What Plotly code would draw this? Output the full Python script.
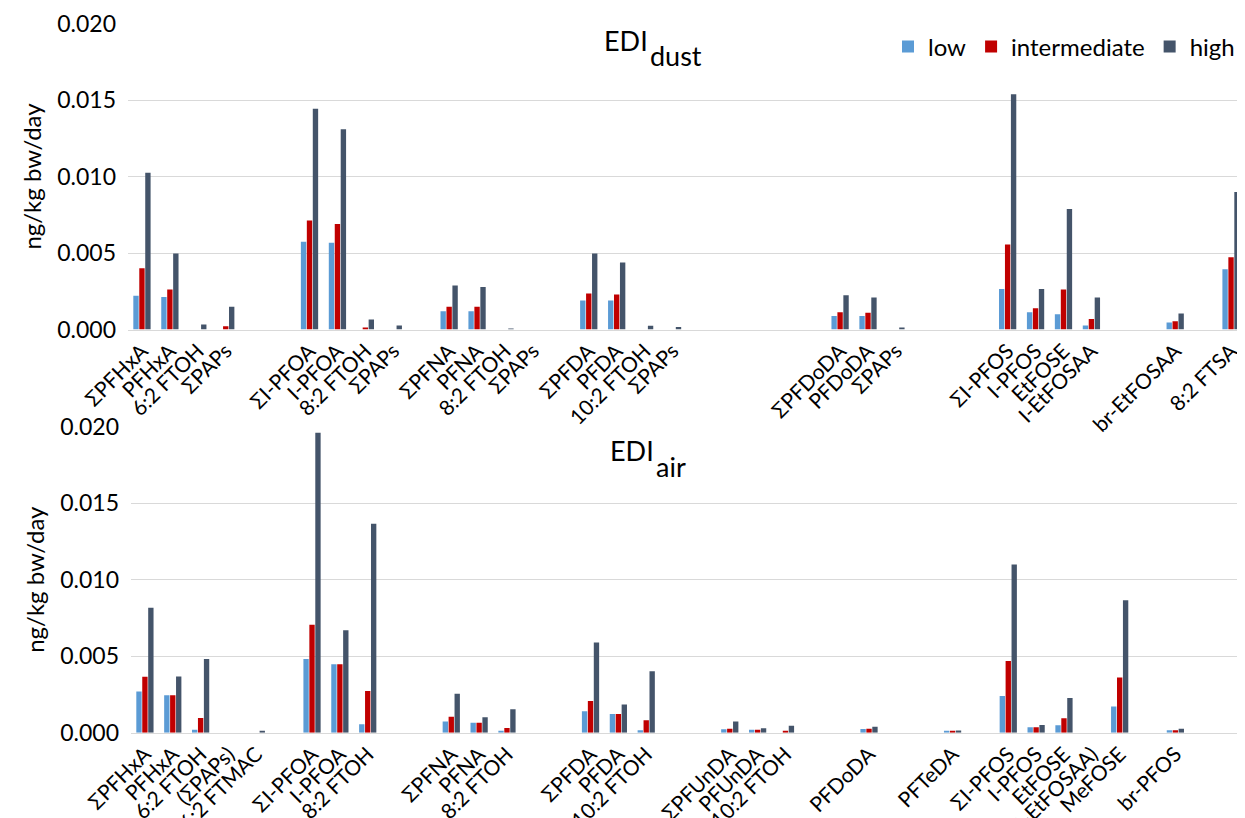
import plotly.graph_objects as go

# ---------------- data: EDI dust (top) ----------------
dust_labels = ["ΣPFHxA", "PFHxA", "6:2 FTOH", "ΣPAPs", "", "",
               "ΣI-PFOA", "I-PFOA", "8:2 FTOH", "ΣPAPs", "",
               "ΣPFNA", "PFNA", "8:2 FTOH", "ΣPAPs", "",
               "ΣPFDA", "PFDA", "10:2 FTOH", "ΣPAPs", "", "", "", "", "",
               "ΣPFDoDA", "PFDoDA", "ΣPAPs", "", "", "",
               "ΣI-PFOS", "I-PFOS", "EtFOSE", "I-EtFOSAA", "", "",
               "br-EtFOSAA", "", "8:2 FTSA"]
dust_low = [0.0022, 0.00213, 0, 0, None, None,
            0.00573, 0.00567, 0, 0, None,
            0.0012, 0.0012, 0, 0, None,
            0.0019, 0.0019, 0, 0, None, None, None, None, None,
            0.00089, 0.00089, 0, None, None, None,
            0.00264, 0.00113, 0.0010, 0.00026, None, None,
            0.00046, None, 0.00393]
dust_mid = [0.0040, 0.00262, 0, 0.00022, None, None,
            0.00713, 0.00689, 0.0001, 0, None,
            0.00148, 0.00148, 0, 0, None,
            0.00236, 0.00229, 0, 0, None, None, None, None, None,
            0.00113, 0.00109, 0, None, None, None,
            0.00556, 0.00139, 0.00262, 0.00069, None, None,
            0.00054, None, 0.00473]
dust_high = [0.01025, 0.00497, 0.00033, 0.00148, None, None,
             0.01442, 0.01309, 0.00065, 0.00026, None,
             0.00288, 0.00277, 0.00005, 0, None,
             0.00497, 0.00438, 0.00024, 0.00017, None, None, None, None, None,
             0.00224, 0.00209, 0.0001, None, None, None,
             0.01538, 0.00264, 0.00787, 0.00209, None, None,
             0.00105, None, 0.00899]

# ---------------- data: EDI air (bottom) ----------------
air_labels = ["ΣPFHxA", "PFHxA", "6:2 FTOH", "(ΣPAPs)", "6:2 FTMAC", "",
              "ΣI-PFOA", "I-PFOA", "8:2 FTOH", "", "",
              "ΣPFNA", "PFNA", "8:2 FTOH", "", "",
              "ΣPFDA", "PFDA", "10:2 FTOH", "", "",
              "ΣPFUnDA", "PFUnDA", "10:2 FTOH", "", "",
              "PFDoDA", "", "", "PFTeDA", "",
              "ΣI-PFOS", "I-PFOS", "EtFOSE", "(I-EtFOSAA)", "MeFOSE", "",
              "br-PFOS", "", ""]
air_low = [0.0027, 0.00244, 0.0002, 0, 0, None,
           0.00482, 0.00447, 0.00055, None, None,
           0.00074, 0.00065, 0.00009, None, None,
           0.0014, 0.00122, 0.00016, None, None,
           0.00022, 0.0002, 0, None, None,
           0.00024, None, None, 0.0001, None,
           0.0024, 0.00035, 0.00048, 0, 0.00172, None,
           0.00016, None, None]
air_mid = [0.00366, 0.00244, 0.00096, 0, 0, None,
           0.00706, 0.00447, 0.00273, None, None,
           0.00105, 0.00065, 0.00031, None, None,
           0.00207, 0.00122, 0.00081, None, None,
           0.00026, 0.0002, 0.00007, None, None,
           0.00026, None, None, 0.0001, None,
           0.00469, 0.00035, 0.00094, 0, 0.0036, None,
           0.00016, None, None]
air_high = [0.00817, 0.00368, 0.00482, 0, 0.00007, None,
            0.0196, 0.00669, 0.01366, None, None,
            0.00255, 0.00101, 0.00153, None, None,
            0.0059, 0.00185, 0.00401, None, None,
            0.00074, 0.00029, 0.00046, None, None,
            0.00039, None, None, 0.00014, None,
            0.011, 0.0005, 0.00227, 0, 0.00865, None,
            0.00026, None, None]

series_names = ["low", "intermediate", "high"]
colors = ["#5B9BD5", "#C00000", "#44546A"]

FONT = "Lato, 'Open Sans', sans-serif"
# page body has an 8px margin: figure is drawn from (8, 8) of the 1245x818 window
OFF = 8
W, H = 1245 - OFF, 818 - OFF

def fx(px):
    return (px - OFF) / W

def fy(py):
    return (H - (py - OFF)) / H

fig = go.Figure()

def add_panel(labels, vals, xa, ya, show):
    xs = list(range(len(labels)))
    for name, v, c in zip(series_names, vals, colors):
        fig.add_trace(go.Bar(x=xs, y=v, name=name, marker=dict(color=c, line=dict(width=0)),
                             xaxis=xa, yaxis=ya, showlegend=show))

add_panel(dust_labels, [dust_low, dust_mid, dust_high], "x", "y", True)
add_panel(air_labels, [air_low, air_mid, air_high], "x2", "y2", False)

def xaxis_cfg(labels, left_px, anchor):
    tv = [i for i, l in enumerate(labels) if l]
    tt = [labels[i] for i in tv]
    return dict(domain=[fx(left_px), 1.0], range=[-0.5, len(labels) - 0.5],
                tickmode="array", tickvals=tv, ticktext=tt, tickangle=-45,
                tickfont=dict(size=21, color="#000000", family=FONT),
                showgrid=False, zeroline=False, showline=True, linecolor="#D9D9D9",
                linewidth=1, ticks="", anchor=anchor, automargin=False)

def yaxis_cfg(top_px, bottom_px, anchor):
    return dict(domain=[fy(bottom_px), fy(top_px)], range=[0, 0.02],
                tickvals=[0, 0.005, 0.01, 0.015, 0.02],
                tickformat=".3f", tickfont=dict(size=23, color="#000000", family=FONT),
                showgrid=True, gridcolor="#D9D9D9", gridwidth=1, zeroline=False,
                showline=False, ticks="", ticklabelstandoff=11, anchor=anchor,
                automargin=False,
                title=dict(text="ng/kg bw/day", font=dict(size=24, color="#000000", family=FONT),
                           standoff=8))

def title_parts(main, sub, join_x, base_main, base_sub, size=27):
    # middle of a text box sits about 0.35em above its baseline
    return [
        dict(text=main, x=fx(join_x + 1), y=fy(base_main - 0.35 * size), xref="paper", yref="paper",
             xanchor="right", yanchor="middle", showarrow=False, borderpad=0,
             font=dict(size=size, family=FONT, color="#000000")),
        dict(text=sub, x=fx(join_x + 1), y=fy(base_sub - 0.35 * size), xref="paper", yref="paper",
             xanchor="left", yanchor="middle", showarrow=False, borderpad=0,
             font=dict(size=size, family=FONT, color="#000000")),
    ]

annots = title_parts("EDI", "dust", 648, 50, 65) + title_parts("EDI", "air", 654, 460, 476)

fig.update_layout(
    width=W, height=H,
    margin=dict(l=0, r=0, t=0, b=0),
    paper_bgcolor="white", plot_bgcolor="white",
    barmode="group", bargap=0.36, bargroupgap=0.1,
    font=dict(family=FONT, color="#000000"),
    xaxis=xaxis_cfg(dust_labels, 128, "y"),
    yaxis=yaxis_cfg(23.5, 329.5, "x"),
    xaxis2=xaxis_cfg(air_labels, 131, "y2"),
    yaxis2=yaxis_cfg(426.7, 732.7, "x2"),
    legend=dict(orientation="h", x=fx(1240), xanchor="right", y=fy(47), yanchor="middle",
                font=dict(size=24, family=FONT, color="#000000"),
                itemwidth=30, tracegroupgap=0, bgcolor="rgba(0,0,0,0)", traceorder="normal"),
    annotations=annots,
)

fig.write_html("out.html")
